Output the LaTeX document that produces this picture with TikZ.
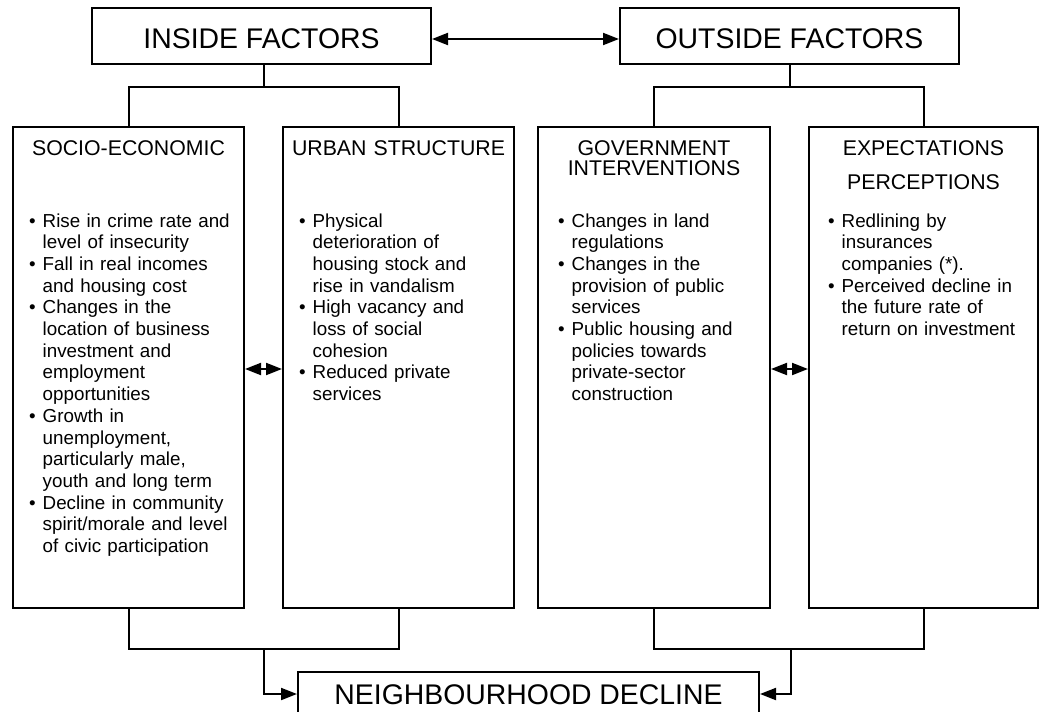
\documentclass[tikz,border=0pt]{standalone}
\usepackage{fontspec}
\setmainfont{Liberation Sans}
\usetikzlibrary{arrows.meta}

\newcommand{\bul}{\hangindent=13.5pt\hangafter=1\noindent\makebox[13.5pt][l]{\textbullet}}

\tikzset{
  box/.style={draw, line width=2pt, inner sep=0pt},
  bigbox/.style={box, minimum width=339pt, minimum height=56pt, font=\fontsize{28.4}{30}\selectfont, text height=24pt, text depth=0pt},
  colbox/.style={box, minimum height=481pt},
  head/.style={inner sep=0pt, anchor=base, text width=228pt, align=center, font=\fontsize{21.3}{20}\selectfont},
  body/.style={inner sep=0pt, anchor=base west, text width=205pt, align=left, font=\fontsize{18.8}{21.7}\selectfont},
  link/.style={line width=2pt},
  oneway/.style={line width=2pt, -{Triangle[length=16pt,width=12pt]}},
  twoway/.style={line width=2pt, {Triangle[length=16pt,width=12pt]}-{Triangle[length=16pt,width=12pt]}}
}

\begin{document}
\begin{tikzpicture}[x=1pt, y=-1pt]

 \useasboundingbox (0,0) rectangle (1039,712);

  %%%%%%%%%% Points pour travailler %%%%%%%%%%
 \coordinate (top-arrow) at (0,39);
 \coordinate (in-stem) at (264,87);
 \coordinate (out-stem) at (790,87);
 \coordinate (head-base) at (0,155);
 \coordinate (mid-arrow) at (0,369);
 \coordinate (low-bar) at (0,649);
 \coordinate (in-drop) at (264,649);
 \coordinate (out-drop) at (791,649);
 \coordinate (nd-in) at (0,694);
 \coordinate (socio-txt) at (29,227);
 \coordinate (urban-txt) at (299,227);
 \coordinate (govt-txt) at (558,227);
 \coordinate (exp-txt) at (828,227);

 %%%%%%%%%% Factor boxes %%%%%%%%%%
 \node[bigbox] (inside) at (261.5,36) {INSIDE FACTORS};
 \node[bigbox] (outside) at (789.5,36) {OUTSIDE FACTORS};

 \node[colbox, minimum width=231pt] (socio) at (128.5,367.5) {};
 \node[colbox, minimum width=231pt] (urban) at (398.5,367.5) {};
 \node[colbox, minimum width=232pt] (govt) at (654,367.5) {};
 \node[colbox, minimum width=229pt] (exp) at (923.5,367.5) {};

 \node[box, minimum width=461pt, minimum height=68pt, font=\fontsize{28.4}{30}\selectfont, text height=20pt, text depth=24pt] (nd) at (528.5,706) {NEIGHBOURHOOD DECLINE};

 %%%%%%%%%% Headings %%%%%%%%%%
 \node[head] (socio-head) at (socio.north |- head-base) {SOCIO-ECONOMIC};
 \node[head] (urban-head) at (urban.north |- head-base) {URBAN STRUCTURE};
 \node[head] (govt-head) at (govt.north |- head-base) {GOVERNMENT\\INTERVENTIONS};
 \node[head] (exp-head) at (exp.north |- head-base) {EXPECTATIONS\\[14pt]PERCEPTIONS};

 %%%%%%%%%% Lists %%%%%%%%%%
 \node[body] (socio-body) at (socio-txt) {%
  \bul Rise in crime rate and\newline level of insecurity\par
  \bul Fall in real incomes\newline and housing cost\par
  \bul Changes in the\newline location of business\newline investment and\newline employment\newline opportunities\par
  \bul Growth in\newline unemployment,\newline particularly male,\newline youth and long term\par
  \bul Decline in community\newline spirit/morale and level\newline of civic participation\par};
 \node[body] (urban-body) at (urban-txt) {%
  \bul Physical\newline deterioration of\newline housing stock and\newline rise in vandalism\par
  \bul High vacancy and\newline loss of social\newline cohesion\par
  \bul Reduced private\newline services\par};
 \node[body] (govt-body) at (govt-txt) {%
  \bul Changes in land\newline regulations\par
  \bul Changes in the\newline provision of public\newline services\par
  \bul Public housing and\newline policies towards\newline private-sector\newline construction\par};
 \node[body] (exp-body) at (exp-txt) {%
  \bul Redlining by\newline insurances\newline companies (*).\par
  \bul Perceived decline in\newline the future rate of\newline return on investment\par};

 %%%%%%%%%%% Connectors %%%%%%%%%%%
 \draw [twoway] (inside.east |- top-arrow) -- (outside.west |- top-arrow);

 \draw [link] (inside.south -| in-stem) -- (in-stem);
 \draw [link] (socio.north) |- (urban.north |- in-stem) -- (urban.north);
 \draw [link] (outside.south -| out-stem) -- (out-stem);
 \draw [link] (govt.north) |- (exp.north |- out-stem) -- (exp.north);

 \draw [twoway] (socio.east |- mid-arrow) -- (urban.west |- mid-arrow);
 \draw [twoway] (govt.east |- mid-arrow) -- (exp.west |- mid-arrow);

 \draw [link] (socio.south) |- (urban.south |- low-bar) -- (urban.south);
 \draw [oneway] (in-drop) |- (nd.west |- nd-in);
 \draw [link] (govt.south) |- (exp.south |- low-bar) -- (exp.south);
 \draw [oneway] (out-drop) |- (nd.east |- nd-in);

\end{tikzpicture}
\end{document}
